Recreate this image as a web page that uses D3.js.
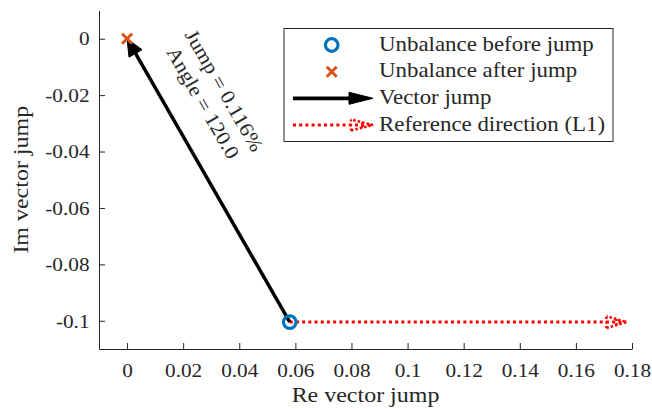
<!DOCTYPE html>
<html>
<head>
<meta charset="utf-8">
<script src="https://cdn.jsdelivr.net/npm/d3@7/dist/d3.min.js"></script>
<style>
  html, body { margin: 0; padding: 0; background: #fff; }
  svg text { font-family: "Liberation Serif", "Times New Roman", serif; fill: #262626; }
</style>
</head>
<body>
<svg id="chart" width="652" height="409"></svg>
<script>
// Unbalance vector jump, shown in the complex plane
const afterJump = [0, 0];            // [Re, Im] after the jump
const jumpMagnitude = 0.116;         // %
const jumpAngleDeg = 120.0;          // degrees
const referenceAngleDeg = 0;         // direction L1
const referenceLength = 0.12;

const xTicks = [0, 0.02, 0.04, 0.06, 0.08, 0.1, 0.12, 0.14, 0.16, 0.18];
const xTickLabels = ["0", "0.02", "0.04", "0.06", "0.08", "0.1", "0.12", "0.14", "0.16", "0.18"];
const yTicks = [-0.1, -0.08, -0.06, -0.04, -0.02, 0];
const yTickLabels = ["-0.1", "-0.08", "-0.06", "-0.04", "-0.02", "0"];

const legendLabels = ["Unbalance before jump", "Unbalance after jump", "Vector jump", "Reference direction (L1)"];

const xDomain = [-0.01, 0.18];
const yDomain = [-0.11, 0.01];

const colors = { before: "#0072BD", after: "#D95319", jump: "#000000", reference: "#FF0000", axis: "#262626" };

// Derived points
const rad = d => d * Math.PI / 180;
const jumpVec = [jumpMagnitude * Math.cos(rad(jumpAngleDeg)), jumpMagnitude * Math.sin(rad(jumpAngleDeg))];
const beforeJump = [afterJump[0] - jumpVec[0], afterJump[1] - jumpVec[1]];
const referenceEnd = [beforeJump[0] + referenceLength * Math.cos(rad(referenceAngleDeg)),
                      beforeJump[1] + referenceLength * Math.sin(rad(referenceAngleDeg))];

const svg = d3.select("#chart");
const x = d3.scaleLinear().domain(xDomain).range([99, 632]);
const y = d3.scaleLinear().domain(yDomain).range([349, 10.5]);

// Text is widened slightly to give the roomy look of a TeX-style serif face
const sx = 1.09;
const tickSize = 19.5, legendSize = 21, labelSize = 22, annoSize = 20;
const styleText = (sel, size) => sel.style("font-family", "'Liberation Serif', serif").style("font-size", size + "px");

// Axes (ticks pointing inward, no box)
const xAxis = d3.axisBottom(x).tickValues(xTicks)
  .tickFormat((d, i) => xTickLabels[i]).tickSizeInner(-6).tickSizeOuter(0).tickPadding(14);
const yAxis = d3.axisLeft(y).tickValues(yTicks)
  .tickFormat((d, i) => yTickLabels[i]).tickSizeInner(-6).tickSizeOuter(0).tickPadding(9.5 / sx);

const gx = svg.append("g").attr("transform", `translate(0,${y.range()[0]})`).call(xAxis);
const gy = svg.append("g").attr("transform", `translate(${x.range()[0]},0)`).call(yAxis);
[gx, gy].forEach(g => {
  g.selectAll("path.domain").attr("stroke", colors.axis).attr("stroke-width", 1);
  g.selectAll(".tick line").attr("stroke", colors.axis).attr("stroke-width", 1);
  styleText(g.selectAll(".tick text").attr("fill", colors.axis), tickSize)
    .attr("transform", `scale(${sx},1)`);
});

// Axis titles
styleText(svg.append("text")
  .attr("transform", `translate(${(x.range()[0] + x.range()[1]) / 2},402) scale(${sx},1)`)
  .attr("text-anchor", "middle"), labelSize).text("Re vector jump");
styleText(svg.append("text")
  .attr("transform", `translate(28,${(y.range()[0] + y.range()[1]) / 2}) rotate(-90) scale(${sx},1)`)
  .attr("text-anchor", "middle"), labelSize).text("Im vector jump");

// Arrow helper: shaft + triangular head, in pixel space
function arrowGeom(x0, y0, x1, y1, headLen, headHalf) {
  const dx = x1 - x0, dy = y1 - y0, L = Math.hypot(dx, dy);
  const ux = dx / L, uy = dy / L, px = -uy, py = ux;
  const bx = x1 - ux * headLen, by = y1 - uy * headLen;
  return {
    shaft: [[x0, y0], [bx, by]],
    head: [[x1, y1], [bx + px * headHalf, by + py * headHalf], [bx - px * headHalf, by - py * headHalf]]
  };
}
const line = d3.line();

function drawJumpArrow(g, x0, y0, x1, y1, headLen, headHalf, width) {
  const a = arrowGeom(x0, y0, x1, y1, headLen, headHalf);
  g.append("path").attr("d", line(a.shaft)).attr("stroke", colors.jump).attr("stroke-width", width).attr("fill", "none");
  g.append("path").attr("d", line(a.head) + "Z").attr("fill", colors.jump).attr("stroke", colors.jump).attr("stroke-width", 1);
}
function drawReferenceArrow(g, x0, y0, x1, y1, headLen, headHalf) {
  const a = arrowGeom(x0, y0, x1, y1, headLen, headHalf);
  g.append("path").attr("d", line([a.shaft[0], [x1, y1]])).attr("stroke", colors.reference)
    .attr("stroke-width", 3).attr("stroke-dasharray", "3,3.2").attr("fill", "none");
  const [t, c1, c2] = a.head;
  const mid1 = [(c1[0] + t[0]) / 2, (c1[1] + t[1]) / 2], mid2 = [(c2[0] + t[0]) / 2, (c2[1] + t[1]) / 2];
  g.append("path").attr("d", line([c1, t, c2])).attr("stroke", colors.reference)
    .attr("stroke-width", 2.5).attr("stroke-dasharray", "2.5,2").attr("fill", "none");
  g.append("path").attr("d", line([c1, c2])).attr("stroke", colors.reference)
    .attr("stroke-width", 2.5).attr("stroke-dasharray", "2,2.5").attr("fill", "none");
  g.append("path").attr("d", line([mid1, mid2])).attr("stroke", colors.reference)
    .attr("stroke-width", 2.5).attr("stroke-dasharray", "2,2").attr("fill", "none");
}
function drawCircle(g, cx, cy) {
  g.append("circle").attr("cx", cx).attr("cy", cy).attr("r", 6.3)
    .attr("fill", "none").attr("stroke", colors.before).attr("stroke-width", 3.2);
}
function drawCross(g, cx, cy) {
  const s = 5;
  g.append("path").attr("d", `M${cx - s},${cy - s}L${cx + s},${cy + s}M${cx - s},${cy + s}L${cx + s},${cy - s}`)
    .attr("stroke", colors.after).attr("stroke-width", 3).attr("fill", "none");
}

// Plot marks
const plot = svg.append("g");
drawReferenceArrow(plot, x(beforeJump[0]), y(beforeJump[1]), x(referenceEnd[0]), y(referenceEnd[1]), 20, 6);
drawJumpArrow(plot, x(beforeJump[0]), y(beforeJump[1]), x(afterJump[0]), y(afterJump[1]), 17, 7.5, 3.5);
drawCircle(plot, x(beforeJump[0]), y(beforeJump[1]));
drawCross(plot, x(afterJump[0]), y(afterJump[1]));

// Annotation along the jump vector
const annoAngle = Math.atan2(y(beforeJump[1]) - y(afterJump[1]), x(beforeJump[0]) - x(afterJump[0])) * 180 / Math.PI;
const anno = svg.append("g").attr("transform", `translate(${x(0.0307)},${y(-0.0206)}) rotate(${annoAngle})`);
styleText(anno.append("text").attr("transform", `translate(0,-6) scale(${sx},1)`).attr("text-anchor", "middle"), annoSize)
  .text(`Jump = ${d3.format(".3f")(jumpMagnitude)}%`);
styleText(anno.append("text").attr("transform", `translate(0,18.5) scale(${sx},1)`).attr("text-anchor", "middle"), annoSize)
  .text(`Angle = ${d3.format(".1f")(jumpAngleDeg)}`);

// Legend
const legend = svg.append("g");
legend.append("rect").attr("x", 284).attr("y", 28.5).attr("width", 329).attr("height", 113)
  .attr("fill", "#fff").attr("stroke", colors.axis).attr("stroke-width", 1);
const rowY = [45, 71.7, 98.3, 125];
drawCircle(legend, 331.7, rowY[0]);
drawCross(legend, 331.7, rowY[1]);
drawJumpArrow(legend, 293, rowY[2], 373, rowY[2], 24, 6, 3.8);
drawReferenceArrow(legend, 293, rowY[3], 373, rowY[3], 22, 5.5);
styleText(legend.selectAll("text.lg").data(legendLabels).join("text").attr("class", "lg")
  .attr("transform", (d, i) => `translate(379,${rowY[i] + 5.5}) scale(${sx},1)`), legendSize)
  .text(d => d);
</script>
</body>
</html>
